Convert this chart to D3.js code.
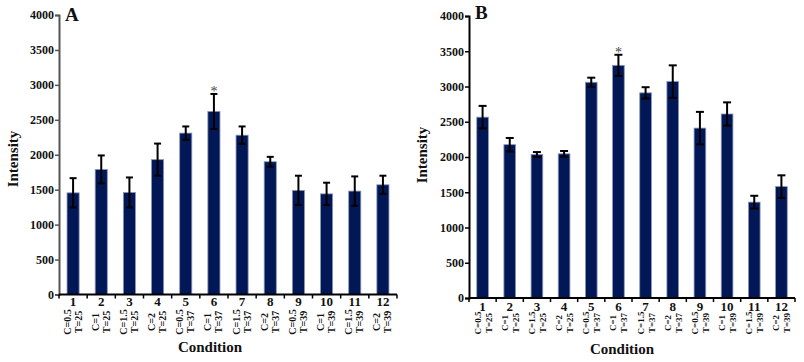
<!DOCTYPE html>
<html lang="en">
<head>
<meta charset="utf-8">
<title>Intensity by condition</title>
<script src="https://d3js.org/d3.v7.min.js"></script>
<style>
  body { margin: 0; background: #fff; }
  svg text { font-family: "Liberation Serif", "Times New Roman", serif; font-weight: bold; fill: #111; }
</style>
</head>
<body>
<script>
"use strict";

// data
const conditions = ["1","2","3","4","5","6","7","8","9","10","11","12"];
const cLabels = ["C=0.5","C=1","C=1.5","C=2","C=0.5","C=1","C=1.5","C=2","C=0.5","C=1","C=1.5","C=2"];
const tLabels = ["T=25","T=25","T=25","T=25","T=37","T=37","T=37","T=37","T=39","T=39","T=39","T=39"];
const meansA = [1455, 1790, 1460, 1930, 2310, 2620, 2280, 1900, 1490, 1440, 1480, 1570];
const errA   = [ 210,  200,  215,  230,   95,  250,  125,   70,  210,  160,  210,  130];
const meansB = [2565, 2175, 2035, 2045, 3060, 3300, 2910, 3070, 2410, 2610, 1360, 1580];
const errB   = [ 160,   95,   35,   40,   65,  150,   80,  230,  230,  165,   90,  160];
const starA = [6];
const starB = [6];
const yTicks = [0, 500, 1000, 1500, 2000, 2500, 3000, 3500, 4000];

const W = 804, H = 362;
const svg = d3.select("body").append("svg")
  .attr("width", W).attr("height", H);

// one panel
function panel(o) {
  const g = svg.append("g");

  const x = d3.scaleBand()
    .domain(conditions)
    .range([o.x0, o.x1])
    .paddingInner(0.57)
    .paddingOuter(0.285);

  const y = d3.scaleLinear().domain([0, 4000]).range([o.y0, o.y1]);

  // bars
  g.selectAll("rect.bar")
    .data(o.means)
    .enter().append("rect")
    .attr("class", "bar")
    .attr("x", (d, i) => x(conditions[i]))
    .attr("width", x.bandwidth())
    .attr("y", d => y(d))
    .attr("height", d => y(0) - y(d))
    .style("fill", "#021856")
    .style("stroke", "#8d96b8")
    .style("stroke-width", 0.8);

  // error bars
  const eb = g.selectAll("g.err")
    .data(o.means)
    .enter().append("g")
    .attr("class", "err")
    .attr("transform", (d, i) => "translate(" + (x(conditions[i]) + x.bandwidth() / 2) + ",0)");

  eb.append("line")
    .attr("y1", (d, i) => y(d + o.err[i]))
    .attr("y2", (d, i) => y(d - o.err[i]));
  eb.append("line")
    .attr("x1", -o.cap).attr("x2", o.cap)
    .attr("y1", (d, i) => y(d + o.err[i]))
    .attr("y2", (d, i) => y(d + o.err[i]));
  eb.append("line")
    .attr("x1", -o.cap).attr("x2", o.cap)
    .attr("y1", (d, i) => y(d - o.err[i]))
    .attr("y2", (d, i) => y(d - o.err[i]));
  eb.selectAll("line")
    .style("stroke", "#000")
    .style("stroke-width", 2);

  // significance marks
  g.selectAll("text.star")
    .data(o.stars)
    .enter().append("text")
    .attr("class", "star")
    .attr("x", d => x(String(d)) + x.bandwidth() / 2)
    .attr("y", d => y(o.means[d - 1] + o.err[d - 1]) + 2)
    .attr("text-anchor", "middle")
    .style("font-size", "14px")
    .style("font-weight", "normal")
    .style("fill", "#444")
    .text("*");

  // y axis
  const yAxis = d3.axisLeft(y)
    .tickValues(yTicks)
    .tickSize(4)
    .tickPadding(1)
    .tickFormat(d3.format("d"));
  const ya = g.append("g")
    .attr("transform", "translate(" + o.x0 + ",0)")
    .call(yAxis);
  ya.select(".domain").style("stroke", o.axisColor).style("stroke-width", 2);
  ya.selectAll(".tick line").style("stroke", o.axisColor).style("stroke-width", 1.5);
  ya.selectAll(".tick text")
    .style("font-size", "12px")
    .style("font-family", "Liberation Serif, serif")
    .style("font-weight", "bold")
    .style("fill", "#111");

  // x axis: line with small ticks between the bars
  const step = x.step();
  const xa = g.append("g");
  xa.append("line")
    .attr("x1", o.x0).attr("x2", o.x1)
    .attr("y1", y(0)).attr("y2", y(0))
    .style("stroke", "#000").style("stroke-width", 2);
  xa.selectAll("line.xt")
    .data(d3.range(conditions.length + 1))
    .enter().append("line")
    .attr("class", "xt")
    .attr("x1", i => o.x0 + i * step)
    .attr("x2", i => o.x0 + i * step)
    .attr("y1", y(0)).attr("y2", y(0) + 4)
    .style("stroke", "#000").style("stroke-width", 1.5);

  // condition numbers
  xa.selectAll("text.num")
    .data(conditions)
    .enter().append("text")
    .attr("class", "num")
    .attr("x", d => x(d) + x.bandwidth() / 2)
    .attr("y", o.numY)
    .attr("text-anchor", "middle")
    .attr("dominant-baseline", "central")
    .style("font-size", "13px")
    .text(d => d);

  // rotated C / T labels
  const sub = xa.selectAll("g.sub")
    .data(conditions)
    .enter().append("g")
    .attr("class", "sub")
    .attr("transform", d => "translate(" + (x(d) + x.bandwidth() / 2) + "," + o.subY + ")");
  sub.append("text")
    .attr("transform", "translate(" + o.cOff + ",0) rotate(-90)")
    .attr("text-anchor", "middle")
    .attr("dominant-baseline", "central")
    .style("font-size", o.subSize + "px")
    .text((d, i) => cLabels[i]);
  sub.append("text")
    .attr("transform", "translate(" + o.tOff + ",0) rotate(-90)")
    .attr("text-anchor", "middle")
    .attr("dominant-baseline", "central")
    .style("font-size", o.subSize + "px")
    .text((d, i) => tLabels[i]);

  // axis titles
  g.append("text")
    .attr("x", o.condX).attr("y", o.condY)
    .attr("text-anchor", "middle")
    .attr("dominant-baseline", "central")
    .style("font-size", "15px")
    .text("Condition");

  g.append("text")
    .attr("transform", "translate(" + o.intX + "," + o.intY + ") rotate(-90)")
    .attr("text-anchor", "middle")
    .attr("dominant-baseline", "central")
    .style("font-size", "15px")
    .text("Intensity");

  // panel letter
  g.append("text")
    .attr("x", o.x0 + 6).attr("y", o.letterY)
    .style("font-size", "19px")
    .text(o.letter);
}

panel({
  letter: "A", means: meansA, err: errA, stars: starA,
  x0: 59, x1: 397, y0: 294.5, y1: 15,
  cap: 3.5, axisColor: "#555",
  numY: 301.5, subY: 322, subSize: 10, cOff: -6, tOff: 5,
  condX: 210, condY: 347, intX: 13, intY: 159, letterY: 21
});

panel({
  letter: "B", means: meansB, err: errB, stars: starB,
  x0: 469, x1: 795, y0: 298, y1: 16,
  cap: 4, axisColor: "#000",
  numY: 306, subY: 323, subSize: 9, cOff: -5, tOff: 6,
  condX: 622, condY: 349, intX: 422, intY: 155, letterY: 19
});
</script>
</body>
</html>
